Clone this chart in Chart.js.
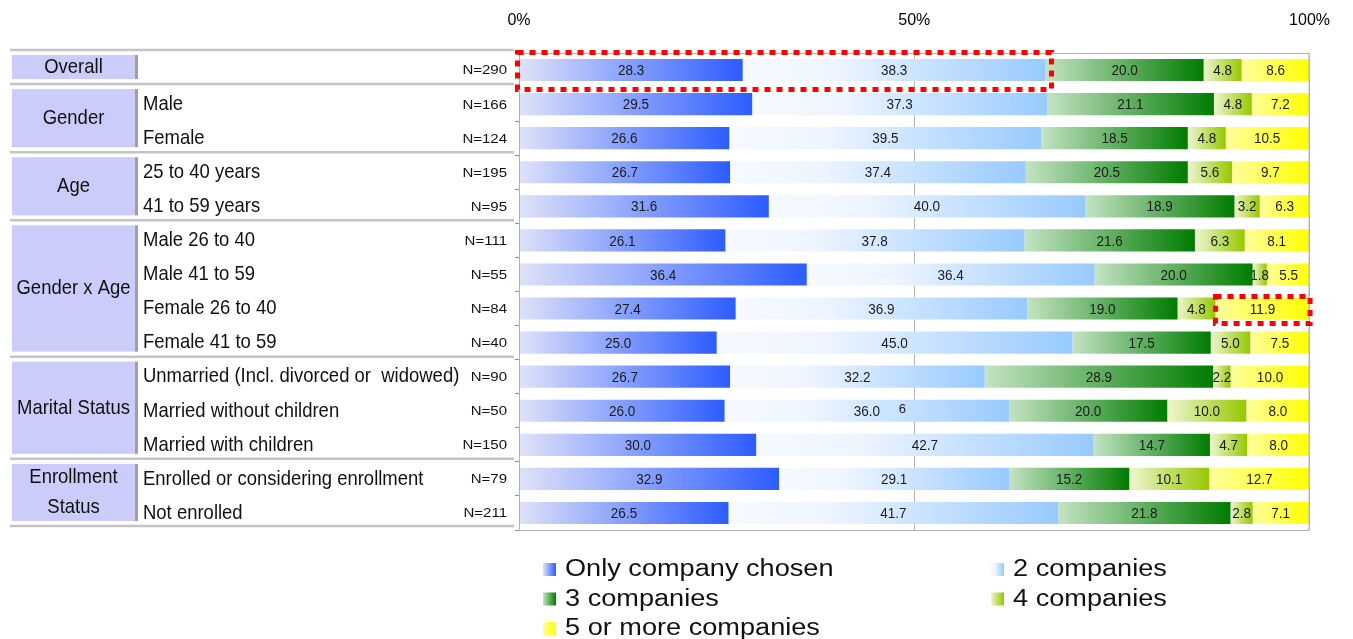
<!DOCTYPE html>
<html>
<head>
<meta charset="utf-8">
<title>Number of companies considered</title>
<script src="https://cdn.jsdelivr.net/npm/chart.js@4.4.0/dist/chart.umd.min.js"></script>
<style>
  html, body { margin: 0; padding: 0; background: #fff; }
  #chart { display: block; }
</style>
</head>
<body>
<canvas id="chart" width="1353" height="639"></canvas>
<script>
// Rows of the breakdown, top to bottom
const rowLabels = ['', 'Male', 'Female', '25 to 40 years', '41 to 59 years',
  'Male 26 to 40', 'Male 41 to 59', 'Female 26 to 40', 'Female 41 to 59',
  'Unmarried (Incl. divorced or  widowed)', 'Married without children', 'Married with children',
  'Enrolled or considering enrollment', 'Not enrolled'];
const sampleSizes = [290, 166, 124, 195, 95, 111, 55, 84, 40, 90, 50, 150, 79, 211];
const groupNames = ['Overall', 'Gender', 'Age', 'Gender x Age', 'Marital Status', 'Enrollment\nStatus'];
const groupRows = [1, 2, 2, 4, 3, 2];

const seriesNames = ['Only company chosen', '2 companies', '3 companies', '4 companies', '5 or more companies'];
const onlyCompany    = [28.3, 29.5, 26.6, 26.7, 31.6, 26.1, 36.4, 27.4, 25.0, 26.7, 26.0, 30.0, 32.9, 26.5];
const twoCompanies   = [38.3, 37.3, 39.5, 37.4, 40.0, 37.8, 36.4, 36.9, 45.0, 32.2, 36.0, 42.7, 29.1, 41.7];
const threeCompanies = [20.0, 21.1, 18.5, 20.5, 18.9, 21.6, 20.0, 19.0, 17.5, 28.9, 20.0, 14.7, 15.2, 21.8];
const fourCompanies  = [4.8, 4.8, 4.8, 5.6, 3.2, 6.3, 1.8, 4.8, 5.0, 2.2, 10.0, 4.7, 10.1, 2.8];
const fiveOrMore     = [8.6, 7.2, 10.5, 9.7, 6.3, 8.1, 5.5, 11.9, 7.5, 10.0, 8.0, 8.0, 12.7, 7.1];
const xTickValues = [0, 50, 100];

// dotted red call-outs (row index, value range)
const highlights = [
  { row: 0, from: 0, to: 66.6 },
  { row: 7, from: 88.1, to: 100 }
];
// stray text left on the married-without-children bar
const strayLabels = [{ row: 10, at: 48.5, text: '6' }];

const series = [onlyCompany, twoCompanies, threeCompanies, fourCompanies, fiveOrMore];

// gradient stops per series, light -> dark
const gradientStops = [
  [[0, '#dfe2f9'], [1, '#2d5cff']],
  [[0, '#f6faff'], [0.3, '#eef5ff'], [1, '#98caff']],
  [[0, '#c4e3c4'], [1, '#007c00']],
  [[0, '#eef6cf'], [1, '#96c800']],
  [[0, '#ffff9c'], [1, '#ffff00']]
];
const highlightPad = [[-1.5, 6, -17.5, 19.5], [0, 0.5, -12, 15]];

const FONT = '"Liberation Sans", Arial, sans-serif';

function makeGradient(ctx, x0, x1, ds) {
  const g = ctx.createLinearGradient(x0, 0, x1, 0);
  gradientStops[ds].forEach(([o, c]) => g.addColorStop(o, c));
  return g;
}

function segmentFill(ds) {
  return function (c) {
    const stops = gradientStops[ds];
    const solid = stops[stops.length - 1][1];
    const xs = c.chart.scales.x;
    if (c.type !== 'data' || !xs) return solid;
    let start = 0;
    for (let k = 0; k < ds; k++) start += series[k][c.dataIndex];
    const end = start + series[ds][c.dataIndex];
    const x0 = xs.getPixelForValue(start), x1 = xs.getPixelForValue(end);
    if (!isFinite(x0) || !isFinite(x1)) return solid;
    return makeGradient(c.chart.ctx, x0, x1, ds);
  };
}

// text squeezed / stretched horizontally
function drawText(ctx, text, x, y, sx, align) {
  ctx.save();
  ctx.translate(x, y);
  ctx.scale(sx, 1);
  ctx.textAlign = align;
  ctx.textBaseline = 'middle';
  ctx.fillText(text, 0, 0);
  ctx.restore();
}

const barDecorations = {
  id: 'barDecorations',
  afterDatasetsDraw(chart) {
    const { ctx, chartArea: a, scales } = chart;
    ctx.save();
    ctx.strokeStyle = '#b0b0b0';
    ctx.lineWidth = 1;
    ctx.strokeRect(a.left + 0.5, a.top + 0.5, a.right - a.left - 1, a.bottom - a.top);

    // segment values
    ctx.fillStyle = '#1a1a1a';
    ctx.font = '15px ' + FONT;
    chart.data.datasets.forEach((d, i) => {
      chart.getDatasetMeta(i).data.forEach((el, j) => {
        drawText(ctx, d.data[j].toFixed(1), (el.x + el.base) / 2, el.y + 1, 0.9, 'center');
      });
    });
    ctx.font = '13px ' + FONT;
    strayLabels.forEach(s => {
      drawText(ctx, s.text, scales.x.getPixelForValue(s.at), scales.y.getPixelForValue(s.row) - 1, 1, 'center');
    });

    // red dotted call-outs
    ctx.strokeStyle = '#ff0000';
    ctx.lineWidth = 5;
    ctx.setLineDash([6, 6]);
    highlights.forEach((h, i) => {
      const p = highlightPad[i];
      const x0 = scales.x.getPixelForValue(h.from) + p[0];
      const x1 = scales.x.getPixelForValue(h.to) + p[1];
      const yc = scales.y.getPixelForValue(h.row);
      ctx.strokeRect(x0, yc + p[2], x1 - x0, p[3] - p[2]);
    });
    ctx.restore();
  },
  afterDraw(chart) {
    const { ctx, chartArea: a, scales } = chart;
    const ys = scales.y;
    const edge = i => ys.getPixelForValue(i - 0.5);
    ctx.save();

    // group separators and boxes on the left
    let start = 0;
    const seps = [];
    groupRows.forEach(n => { seps.push(edge(start) - 3); start += n; });
    seps.push(edge(start) - 4);

    ctx.strokeStyle = '#c4c4c4';
    ctx.lineWidth = 2.5;
    seps.forEach(y => {
      ctx.beginPath();
      ctx.moveTo(10, y);
      ctx.lineTo(a.left - 5, y);
      ctx.stroke();
    });

    ctx.font = '21px ' + FONT;
    groupNames.forEach((name, g) => {
      const top = seps[g] + 5, bottom = seps[g + 1] - 5;
      ctx.fillStyle = '#ccccfa';
      ctx.fillRect(12, top, 123, bottom - top);
      ctx.fillStyle = '#a0a0a0';
      ctx.fillRect(135, top, 3, bottom - top);
      ctx.fillStyle = '#111';
      const lines = name.split('\n');
      const mid = (top + bottom) / 2;
      lines.forEach((t, k) => {
        drawText(ctx, t, 73.5, mid + (k - (lines.length - 1) / 2) * 30, 0.88, 'center');
      });
    });

    // sub-group labels and sample sizes
    rowLabels.forEach((lab, i) => {
      const y = ys.getPixelForValue(i);
      ctx.fillStyle = '#111';
      ctx.font = '21px ' + FONT;
      if (lab) drawText(ctx, lab, 143, y, 0.88, 'left');
      ctx.font = '12.5px ' + FONT;
      drawText(ctx, 'N=' + sampleSizes[i], a.left - 12, y + 1, 1.2, 'right');
    });

    // legend, two columns
    ctx.font = '23px ' + FONT;
    seriesNames.forEach((name, i) => {
      const x = a.left + 24 + (i % 2) * 448;
      const y = a.bottom + 40 + Math.floor(i / 2) * 29.5;
      ctx.fillStyle = makeGradient(ctx, x, x + 13, i);
      ctx.fillRect(x, y - 7, 13, 13);
      ctx.fillStyle = '#111';
      drawText(ctx, name, x + 22, y, 1.18, 'left');
    });
    ctx.restore();
  }
};

Chart.defaults.font.family = FONT;

new Chart(document.getElementById('chart'), {
  type: 'bar',
  data: {
    labels: rowLabels,
    datasets: series.map((values, i) => ({
      label: seriesNames[i],
      data: values,
      backgroundColor: segmentFill(i),
      borderWidth: 0,
      barPercentage: 0.65,
      categoryPercentage: 1
    }))
  },
  options: {
    indexAxis: 'y',
    responsive: false,
    animation: false,
    devicePixelRatio: 1,
    events: [],
    layout: { padding: { left: 515, right: 38, top: 0, bottom: 109 } },
    plugins: {
      legend: { display: false },
      tooltip: { enabled: false }
    },
    scales: {
      x: {
        position: 'top',
        stacked: true,
        min: 0,
        max: 100,
        afterBuildTicks: s => { s.ticks = xTickValues.map(v => ({ value: v })); },
        afterFit: s => { s.height = 53; },
        grid: { color: '#b4b4b4', drawTicks: false },
        border: { color: '#b0b0b0' },
        ticks: {
          padding: 23,
          color: '#000',
          font: { size: 16 },
          callback: v => v + '%'
        }
      },
      y: {
        stacked: true,
        afterFit: s => { s.width = 4; },
        grid: { drawOnChartArea: false, tickLength: 4, color: '#909090' },
        border: { color: '#a0a0a0' },
        ticks: { display: false }
      }
    }
  },
  plugins: [barDecorations]
});
</script>
</body>
</html>
